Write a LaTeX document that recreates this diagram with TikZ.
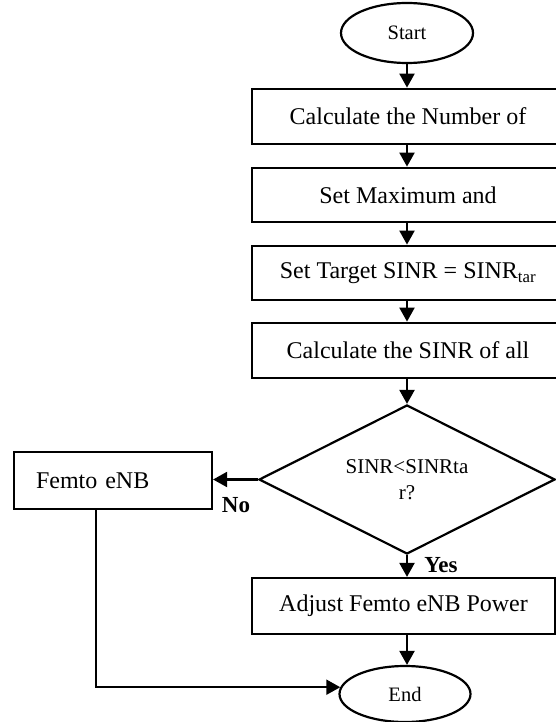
\documentclass[tikz,border=0pt]{standalone}
\usepackage{fontspec}
\setmainfont{Liberation Serif}
\usetikzlibrary{arrows.meta,shapes.geometric}
\begin{document}
\begin{tikzpicture}[x=1pt,y=-1pt,
  every node/.style={inner sep=0pt},
  procbox/.style={draw, line width=2.8pt, rectangle, minimum width=312pt,
    minimum height=55pt, font=\fontsize{24}{29}\selectfont},
  thinbox/.style={draw, line width=2.2pt, rectangle, font=\fontsize{24}{29}\selectfont},
  terminal/.style={draw, line width=2.2pt, ellipse, font=\fontsize{20.5}{25}\selectfont},
  decision/.style={draw, line width=2.2pt, diamond, shape aspect=2, align=center,
    font=\fontsize{21}{26}\selectfont},
  flow/.style={line width=2.2pt, -{Triangle[length=14pt,width=15pt]}},
  answer/.style={font=\fontsize{23}{27}\selectfont\bfseries}]

\fill[white] (0,0) rectangle (556,722);
\useasboundingbox (0,0) rectangle (556,722);

% main column
\node[terminal, minimum width=132pt, minimum height=60pt] (start) at (407,33) {Start};
\node[procbox] (calc) at (408,116.5) {Calculate the Number of};
\node[procbox, minimum height=54pt] (setmax) at (408,195) {Set Maximum and};
\node[procbox, minimum height=54pt] (settar) at (408,273) {Set Target SINR = SINR\textsubscript{tar}};
\node[procbox] (sinr) at (408,350.5) {Calculate the SINR of all};
\node[decision, minimum width=296pt, minimum height=149pt] (test) at (407,479.5) {SINR<SINRta\\r?};
\node[thinbox, minimum width=303pt, minimum height=56pt] (adjust) at (403.5,606) {Adjust Femto eNB Power};
\node[terminal, minimum width=131pt, minimum height=56pt] (stop) at (405,694) {End};

% side branch
\node[thinbox, minimum height=57pt, text width=154pt, align=left, inner xsep=22pt] (femto) at (113,480.5) {Femto eNB};

% branch labels
\node[answer] (no) at (236,505) {No};
\node[answer] (yes) at (441,565) {Yes};

% connectors
\draw[flow] (start.south) -- (start.south |- calc.north);
\draw[flow] (calc.south -| test.north) -- (setmax.north -| test.north);
\draw[flow] (setmax.south -| test.north) -- (settar.north -| test.north);
\draw[flow] (settar.south -| test.north) -- (sinr.north -| test.north);
\draw[flow] (sinr.south -| test.north) -- (test.north);
\draw[flow] (test.west) -- (test.west -| femto.east);
\draw[flow] (test.south) -- (test.south |- adjust.north);
\draw[flow] (adjust.south -| test.south) -- (stop.north -| test.south);
\draw[flow] ([xshift=-17pt]femto.south) |- (stop.174);
\end{tikzpicture}
\end{document}
